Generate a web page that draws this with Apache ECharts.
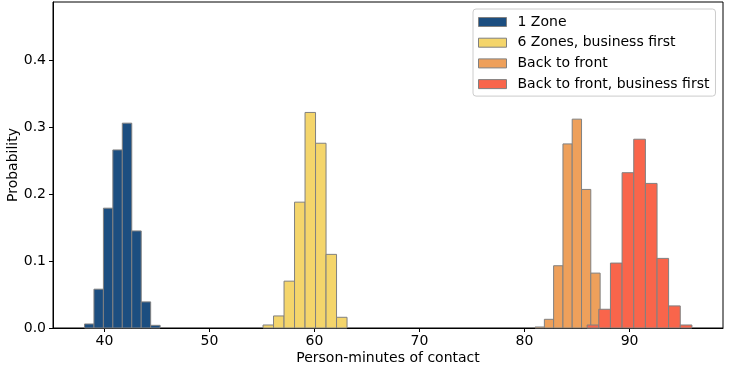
<!DOCTYPE html>
<html>
<head>
<meta charset="utf-8">
<script src="https://cdn.jsdelivr.net/npm/echarts@6/dist/echarts.min.js"></script>
<style>
html,body{margin:0;padding:0;background:#fff;}
#chart{width:733px;height:373px;}
</style>
</head>
<body>
<div id="chart"></div>
<script>
// Series names
const seriesNames = ["1 Zone", "6 Zones, business first", "Back to front", "Back to front, business first"];
// Bin edges (person-minutes) per series
const edgesOneZone = [38.1, 39.0, 39.9, 40.8, 41.7, 42.6, 43.5, 44.4, 45.3];
const edgesSixZones = [55.1, 56.1, 57.1, 58.1, 59.1, 60.1, 61.1, 62.1, 63.1];
const edgesBackFront = [81.0, 81.89, 82.77, 83.66, 84.54, 85.43, 86.31, 87.2];
const edgesBackFrontBiz = [85.96, 87.07, 88.18, 89.29, 90.40, 91.51, 92.62, 93.72, 94.83, 95.94];
// Probabilities per bin
const probOneZone = [0.006, 0.058, 0.179, 0.266, 0.306, 0.145, 0.039, 0.004];
const probSixZones = [0.0045, 0.018, 0.070, 0.188, 0.322, 0.276, 0.110, 0.016];
const probBackFront = [0.0015, 0.013, 0.093, 0.275, 0.312, 0.207, 0.082];
const probBackFrontBiz = [0.0045, 0.028, 0.097, 0.232, 0.282, 0.216, 0.104, 0.033, 0.0045];
// Axis ticks
const xTicks = [40, 50, 60, 70, 80, 90];
const yTicks = [0, 0.1, 0.2, 0.3, 0.4];

const colors = ["#1c4e80", "#f4d56b", "#eea05b", "#f9654b"];

function toBars(edges, probs) {
  return probs.map((p, i) => [edges[i], edges[i + 1], p]);
}
const allEdges = [edgesOneZone, edgesSixZones, edgesBackFront, edgesBackFrontBiz];
const allProbs = [probOneZone, probSixZones, probBackFront, probBackFrontBiz];

function renderItem(params, api) {
  const x0 = api.value(0), x1 = api.value(1), h = api.value(2);
  const p0 = api.coord([x0, h]);
  const p1 = api.coord([x1, 0]);
  return {
    type: 'rect',
    shape: { x: p0[0], y: p0[1], width: p1[0] - p0[0], height: p1[1] - p0[1] },
    style: api.style({ fill: colors[params.seriesIndex], stroke: '#808080', lineWidth: 1 })
  };
}

const font = 'DejaVu Sans';
const fs = 14;
const chart = echarts.init(document.getElementById('chart'), null, { renderer: 'canvas' });
chart.setOption({
  animation: false,
  backgroundColor: '#fff',
  textStyle: { fontFamily: font },
  grid: { left: 53, right: 10, top: 2, bottom: 45, containLabel: false, outerBoundsMode: 'none',
    show: true, borderColor: '#000', borderWidth: 1, backgroundColor: 'transparent' },
  legend: {
    orient: 'vertical',
    left: 473, top: 9,
    padding: [6, 6, 5, 5],
    itemGap: 6.7,
    itemWidth: 28, itemHeight: 9,
    icon: 'rect',
    borderColor: '#cccccc', borderWidth: 1, borderRadius: 3,
    backgroundColor: '#fff',
    textStyle: { fontFamily: font, fontSize: fs, color: '#000', padding: [0, 0, 0, 6] },
    itemStyle: { borderColor: '#808080', borderWidth: 1 },
    data: seriesNames
  },
  xAxis: {
    type: 'value',
    min: 35.1, max: 98.9,
    name: 'Person-minutes of contact',
    nameLocation: 'middle',
    nameGap: 23,
    nameMoveOverlap: false,
    nameTextStyle: { fontFamily: font, fontSize: fs, color: '#000' },
    axisLine: { show: true, lineStyle: { color: '#000', width: 1 } },
    axisTick: { show: true, customValues: xTicks, length: 4, lineStyle: { color: '#000' } },
    axisLabel: { customValues: xTicks, fontFamily: font, fontSize: fs, color: '#000', margin: 6 },
    splitLine: { show: false }
  },
  yAxis: {
    type: 'value',
    min: 0, max: 0.487,
    name: 'Probability',
    nameLocation: 'middle',
    nameGap: 40,
    nameMoveOverlap: false,
    nameTextStyle: { fontFamily: font, fontSize: fs, color: '#000', verticalAlign: 'middle' },
    axisLine: { show: true, lineStyle: { color: '#000', width: 1 } },
    axisTick: { show: true, customValues: yTicks, length: 4, lineStyle: { color: '#000' } },
    axisLabel: { customValues: yTicks, fontFamily: font, fontSize: fs, color: '#000', margin: 7,
      formatter: v => v.toFixed(1) },
    splitLine: { show: false }
  },
  series: seriesNames.map((name, i) => ({
    name: name,
    type: 'custom',
    renderItem: renderItem,
    itemStyle: { color: colors[i], borderColor: '#808080', borderWidth: 1 },
    encode: { x: [0, 1], y: 2 },
    data: toBars(allEdges[i], allProbs[i]),
    z: 2 + i
  }))
});
</script>
</body>
</html>
